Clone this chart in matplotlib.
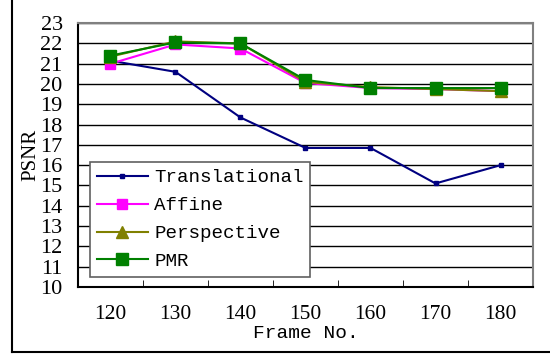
import matplotlib.pyplot as plt
from matplotlib.lines import Line2D

frames = ["120", "130", "140", "150", "160", "170", "180"]
translational = [21.15, 20.6, 18.35, 16.85, 16.85, 15.1, 16.0]
affine = [21.0, 21.95, 21.75, 20.05, 19.8, 19.75, 19.65]
perspective = [21.35, 22.1, 22.0, 20.1, 19.85, 19.75, 19.65]
pmr = [21.4, 22.05, 22.0, 20.2, 19.8, 19.8, 19.8]
yticks = list(range(10, 24))

fig = plt.figure(figsize=(5.5, 3.56), dpi=100)
ax = fig.add_axes([0.1418, 0.194, 0.8273, 0.741])

x = list(range(len(frames)))
ax.plot(x, translational, color="#000080", linewidth=1.5, marker="s",
        markersize=3.5, label="Translational")
ax.plot(x, affine, color="#FF00FF", linewidth=1.5, marker="s",
        markersize=7, label="Affine")
ax.plot(x, perspective, color="#808000", linewidth=1.5, marker="^",
        markersize=8, label="Perspective")
ax.plot(x, pmr, color="#008000", linewidth=1.5, marker="s",
        markersize=8, label="PMR")

ax.set_xlim(-0.5, len(frames) - 0.5)
ax.set_ylim(10, 23)
ax.set_yticks(yticks)
ax.set_yticklabels([str(v) for v in yticks], family="Liberation Serif", fontsize=16)
ax.set_xticks(x)
ax.set_xticklabels(frames, family="Liberation Serif", fontsize=15.5)
ax.tick_params(axis="x", length=0, pad=13)
ax.tick_params(axis="y", length=0, pad=11)
# category boundary ticks, pointing up from the x axis
ax.set_xticks([i + 0.5 for i in range(len(frames) - 1)], minor=True)
ax.tick_params(axis="x", which="minor", direction="in", length=5, color="black")

ax.yaxis.grid(True, color="black", linewidth=1)
ax.set_axisbelow(True)
for side in ["top", "right"]:
    ax.spines[side].set_color("#808080")
    ax.spines[side].set_linewidth(1.5)
for side in ["left", "bottom"]:
    ax.spines[side].set_color("black")
    ax.spines[side].set_linewidth(1.5)

ax.set_xlabel("Frame No.", family="Liberation Mono", fontsize=14, labelpad=1)
ax.set_ylabel("PSNR", family="Liberation Serif", fontsize=15, labelpad=0)

leg = ax.legend(loc="lower left", bbox_to_anchor=(0.026, 0.038), borderaxespad=0,
                prop={"family": "Liberation Mono", "size": 13.8},
                fancybox=False, framealpha=1, edgecolor="#606060",
                handlelength=2.7, handletextpad=0.3, labelspacing=0.55,
                borderpad=0.35)
leg.get_frame().set_linewidth(1.2)

# outer chart frame
fig.add_artist(Line2D([12 / 550, 12 / 550], [1 - 352 / 356, 1], color="black", linewidth=1.5))
fig.add_artist(Line2D([12 / 550, 1], [1 - 352 / 356, 1 - 352 / 356], color="black", linewidth=1.5))

plt.savefig("out.png", dpi=100)
plt.close()
